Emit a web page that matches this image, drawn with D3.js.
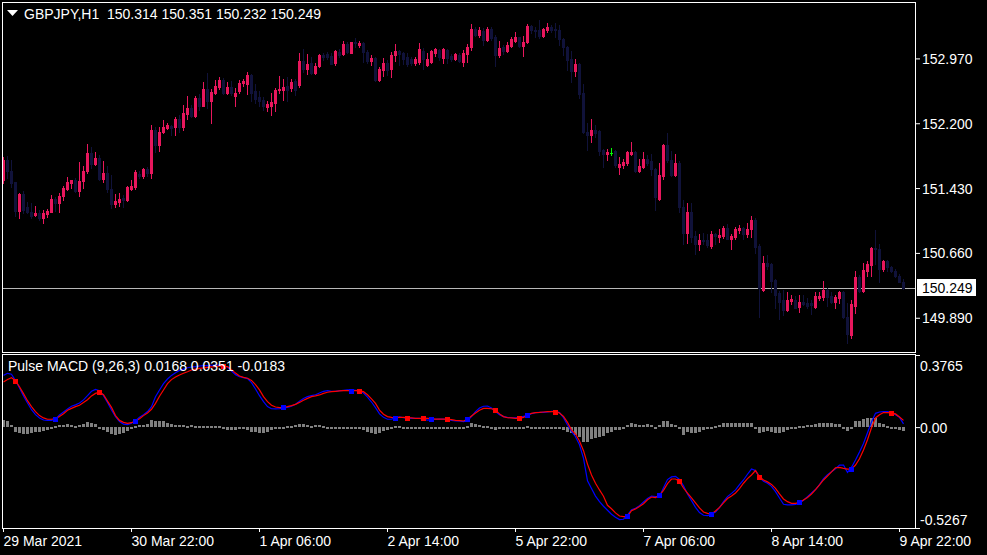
<!DOCTYPE html>
<html><head><meta charset="utf-8">
<script src="https://cdn.jsdelivr.net/npm/d3@7"></script>
<style>
html,body{margin:0;padding:0;background:#000;overflow:hidden}
svg{display:block}
text{font-family:"Liberation Sans",Arial,sans-serif;font-size:14px;fill:#fff}
</style></head><body>
<script>
// ---- data (GBPJPY H1, 226 bars, 29 Mar 14:00 .. 9 Apr 23:00) ----
const openP=[151.52,151.76,151.63,151.50,151.16,151.36,151.21,151.15,151.11,151.13,
151.08,151.12,151.15,151.30,151.25,151.34,151.42,151.49,151.52,151.39,
151.51,151.63,151.85,151.72,151.79,151.54,151.61,151.42,151.24,151.27,
151.31,151.29,151.42,151.44,151.60,151.57,151.66,151.61,152.12,151.94,
152.10,152.14,152.17,152.15,152.25,152.15,152.31,152.38,152.29,152.50,
152.41,152.61,152.46,152.56,152.63,152.71,152.56,152.63,152.52,152.58,
152.68,152.67,152.77,152.58,152.51,152.48,152.39,152.40,152.44,152.59,
152.60,152.64,152.62,152.70,152.65,152.94,152.84,152.91,152.80,152.88,
153.01,153.02,153.00,152.91,153.05,153.02,153.14,153.04,153.17,153.13,
153.15,153.05,152.94,152.98,152.71,152.83,152.92,152.85,153.01,153.06,
153.03,152.99,152.96,152.91,152.93,153.06,152.89,152.93,153.03,153.07,
152.98,153.07,153.00,152.96,153.01,152.93,153.02,153.10,153.32,153.25,
153.30,153.19,153.32,153.22,153.01,153.10,153.06,153.12,153.18,153.22,
153.12,153.16,153.36,153.31,153.31,153.24,153.31,153.34,153.32,153.31,
153.20,153.11,152.96,152.82,152.90,152.56,152.10,152.06,152.12,152.11,
151.88,151.84,151.85,151.87,151.68,151.70,151.73,151.84,151.86,151.63,
151.68,151.78,151.75,151.66,151.30,151.57,151.94,151.76,151.58,151.73,
151.20,150.90,151.15,150.86,150.77,150.81,150.81,150.74,150.89,150.85,
150.86,150.96,150.83,150.85,150.93,150.95,150.88,150.94,151.05,150.74,
150.22,150.54,150.53,150.34,150.18,150.10,149.98,150.09,150.10,150.02,
150.08,150.07,150.06,150.02,150.13,150.14,150.22,150.15,150.08,150.13,
150.20,149.90,149.69,150.03,150.37,150.21,150.45,150.52,150.72,150.71,
150.47,150.56,150.49,150.45,150.39,150.314];
const highP=[151.80,151.81,151.76,151.50,151.37,151.40,151.27,151.25,151.22,151.17,
151.17,151.18,151.35,151.32,151.37,151.46,151.56,151.53,151.55,151.74,
151.69,151.95,151.92,151.86,151.82,151.75,151.69,151.59,151.36,151.37,
151.35,151.45,151.52,151.65,151.63,151.67,151.68,152.18,152.15,152.15,
152.24,152.20,152.18,152.28,152.30,152.42,152.52,152.42,152.52,152.55,
152.69,152.80,152.61,152.71,152.75,152.74,152.69,152.70,152.62,152.71,
152.73,152.81,152.79,152.67,152.58,152.51,152.46,152.56,152.62,152.76,
152.73,152.75,152.73,152.73,153.03,153.08,153.02,152.99,152.91,153.02,
153.04,153.05,153.04,153.07,153.08,153.18,153.17,153.17,153.21,153.18,
153.17,153.07,153.01,152.99,152.87,152.97,152.95,153.05,153.14,153.07,
153.05,153.04,152.99,152.99,153.15,153.09,153.03,153.07,153.09,153.08,
153.09,153.08,153.02,153.03,153.04,153.07,153.14,153.38,153.34,153.34,
153.33,153.34,153.34,153.25,153.18,153.13,153.16,153.22,153.28,153.23,
153.24,153.38,153.37,153.34,153.43,153.33,153.39,153.37,153.39,153.37,
153.21,153.12,153.06,152.96,152.92,152.67,152.20,152.25,152.18,152.12,
151.90,151.89,151.91,151.88,151.80,151.78,151.87,151.98,151.87,151.78,
151.86,151.82,151.83,151.67,151.73,151.95,152.08,151.87,151.84,151.75,
151.29,151.25,151.25,150.92,150.88,150.90,150.88,150.92,150.90,150.94,
150.98,151.00,150.89,150.97,150.99,150.97,151.01,151.10,151.08,150.76,
150.62,150.64,150.54,150.35,150.21,150.22,150.19,150.16,150.15,150.16,
150.16,150.12,150.10,150.19,150.19,150.33,150.24,150.19,150.16,150.21,
150.21,150.07,150.10,150.45,150.40,150.54,150.56,150.73,150.93,150.77,
150.58,150.58,150.51,150.47,150.41,150.351];
const lowP=[151.49,151.55,151.44,151.10,151.08,151.13,151.13,151.08,151.10,151.05,
151.01,151.09,151.14,151.16,151.15,151.29,151.41,151.43,151.38,151.34,
151.43,151.61,151.67,151.70,151.53,151.50,151.38,151.19,151.20,151.22,
151.21,151.28,151.41,151.42,151.55,151.55,151.57,151.55,151.86,151.87,
152.08,152.13,152.06,152.06,152.10,152.12,152.25,152.27,152.27,152.36,
152.40,152.38,152.20,152.55,152.61,152.55,152.55,152.54,152.41,152.56,
152.64,152.55,152.46,152.44,152.40,152.36,152.34,152.30,152.34,152.56,
152.48,152.46,152.58,152.54,152.63,152.81,152.79,152.79,152.78,152.87,
152.95,152.96,152.90,152.89,152.99,153.01,153.03,153.03,153.11,153.11,
152.93,152.91,152.89,152.70,152.70,152.76,152.77,152.75,152.94,152.89,
152.90,152.88,152.89,152.89,152.90,152.85,152.88,152.91,153.00,152.95,
152.91,152.91,152.94,152.95,152.93,152.88,152.93,153.07,153.24,153.22,
153.13,153.18,153.19,152.88,152.99,153.02,153.05,153.11,153.16,153.11,
153.00,153.15,153.27,153.22,153.21,153.23,153.28,153.28,153.22,153.13,
153.01,152.83,152.69,152.76,152.50,152.08,151.88,151.98,152.04,151.82,
151.68,151.76,151.82,151.68,151.60,151.67,151.71,151.82,151.62,151.62,
151.67,151.70,151.59,151.17,151.29,151.54,151.74,151.57,151.57,151.14,
150.77,150.78,150.79,150.65,150.70,150.77,150.73,150.72,150.77,150.79,
150.84,150.82,150.71,150.82,150.90,150.82,150.85,150.85,150.66,149.90,
150.21,150.47,150.20,150.01,149.88,149.92,149.97,150.05,150.00,149.96,
150.04,150.01,149.93,150.01,150.10,150.10,150.03,150.07,150.01,150.07,
149.89,149.59,149.65,149.95,150.20,150.20,150.39,150.38,150.53,150.31,
150.44,150.45,150.43,150.37,150.31,150.232];
const closeP=[151.76,151.63,151.49,151.16,151.36,151.17,151.15,151.10,151.13,151.08,
151.13,151.16,151.30,151.25,151.34,151.43,151.50,151.52,151.39,151.51,
151.63,151.85,151.72,151.79,151.54,151.61,151.42,151.24,151.28,151.30,
151.29,151.44,151.46,151.62,151.57,151.66,151.61,152.12,151.94,152.10,
152.15,152.18,152.14,152.25,152.15,152.32,152.38,152.29,152.50,152.41,
152.61,152.46,152.57,152.64,152.71,152.56,152.63,152.56,152.56,152.68,
152.70,152.77,152.56,152.49,152.47,152.40,152.43,152.45,152.60,152.61,
152.63,152.60,152.69,152.60,152.94,152.84,152.90,152.80,152.88,153.01,
152.99,152.99,152.90,153.06,153.01,153.14,153.05,153.16,153.15,153.15,
153.05,152.94,152.98,152.71,152.85,152.92,152.83,153.01,153.06,153.02,
152.96,152.90,152.91,152.96,153.08,152.96,152.96,153.06,153.08,152.99,
153.08,152.97,152.96,153.02,152.94,153.04,153.11,153.32,153.25,153.31,
153.19,153.32,153.21,153.01,153.09,153.06,153.13,153.20,153.22,153.12,
153.16,153.36,153.31,153.30,153.24,153.32,153.34,153.31,153.31,153.20,
153.10,152.95,152.82,152.90,152.55,152.10,152.06,152.12,152.09,151.87,
151.83,151.86,151.85,151.70,151.72,151.74,151.86,151.86,151.63,151.69,
151.78,151.73,151.66,151.32,151.59,151.94,151.76,151.58,151.73,151.20,
150.90,151.15,150.85,150.77,150.81,150.80,150.75,150.89,150.86,150.87,
150.96,150.83,150.86,150.94,150.96,150.89,150.94,151.05,150.73,150.24,
150.54,150.50,150.33,150.16,150.08,149.98,150.10,150.11,150.01,150.08,
150.05,150.03,150.04,150.15,150.15,150.22,150.14,150.08,150.14,150.20,
149.90,149.70,150.05,150.37,150.21,150.46,150.53,150.72,150.71,150.47,
150.56,150.49,150.44,150.38,150.32,150.249];

const macdLine=[0.270,0.281,0.276,0.243,0.204,0.163,0.126,0.091,0.065,0.048,
0.037,0.035,0.035,0.042,0.063,0.079,0.095,0.109,0.116,0.126,
0.142,0.164,0.187,0.197,0.190,0.164,0.129,0.089,0.055,0.029,
0.016,0.013,0.020,0.034,0.051,0.065,0.081,0.107,0.159,0.194,
0.227,0.251,0.270,0.284,0.296,0.303,0.310,0.314,0.316,0.319,
0.321,0.321,0.323,0.324,0.324,0.321,0.314,0.293,0.274,0.263,
0.258,0.253,0.232,0.199,0.164,0.133,0.107,0.096,0.095,0.096,
0.100,0.103,0.109,0.119,0.135,0.149,0.159,0.164,0.169,0.178,
0.187,0.190,0.187,0.187,0.190,0.192,0.194,0.194,0.192,0.189,
0.178,0.157,0.131,0.102,0.069,0.051,0.041,0.042,0.048,0.053,
0.049,0.046,0.046,0.046,0.046,0.042,0.037,0.039,0.041,0.042,
0.042,0.041,0.035,0.032,0.032,0.029,0.034,0.055,0.081,0.100,
0.109,0.110,0.100,0.081,0.065,0.055,0.051,0.049,0.049,0.051,
0.056,0.060,0.070,0.076,0.077,0.077,0.079,0.082,0.082,0.076,
0.049,0.011,-0.022,-0.050,-0.092,-0.163,-0.280,-0.321,-0.360,-0.389,
-0.413,-0.434,-0.455,-0.471,-0.483,-0.481,-0.459,-0.431,-0.424,-0.410,
-0.391,-0.372,-0.360,-0.363,-0.363,-0.316,-0.274,-0.260,-0.257,-0.273,
-0.306,-0.349,-0.384,-0.419,-0.446,-0.460,-0.462,-0.455,-0.443,-0.420,
-0.389,-0.363,-0.346,-0.328,-0.300,-0.276,-0.246,-0.219,-0.227,-0.262,
-0.283,-0.293,-0.309,-0.337,-0.370,-0.403,-0.406,-0.406,-0.403,-0.396,
-0.382,-0.363,-0.344,-0.326,-0.300,-0.269,-0.248,-0.233,-0.217,-0.198,
-0.198,-0.236,-0.210,-0.172,-0.130,-0.085,-0.029,0.027,0.072,0.079,
0.081,0.081,0.077,0.065,0.051,0.017];
const signalLine=[0.236,0.249,0.258,0.243,0.211,0.175,0.138,0.107,0.081,0.060,
0.048,0.041,0.041,0.044,0.055,0.070,0.088,0.098,0.107,0.114,
0.128,0.143,0.163,0.176,0.183,0.169,0.136,0.103,0.060,0.035,
0.025,0.020,0.023,0.032,0.044,0.060,0.074,0.093,0.124,0.161,
0.194,0.227,0.248,0.262,0.272,0.281,0.289,0.298,0.303,0.307,
0.309,0.312,0.314,0.316,0.319,0.317,0.316,0.300,0.282,0.267,
0.260,0.255,0.244,0.222,0.194,0.159,0.133,0.114,0.105,0.102,
0.103,0.107,0.112,0.119,0.129,0.140,0.150,0.159,0.163,0.168,
0.176,0.182,0.185,0.187,0.189,0.190,0.190,0.190,0.190,0.189,
0.185,0.169,0.147,0.124,0.089,0.067,0.055,0.051,0.049,0.051,
0.051,0.049,0.048,0.046,0.046,0.046,0.046,0.044,0.042,0.042,
0.042,0.041,0.039,0.035,0.034,0.032,0.041,0.058,0.074,0.088,
0.098,0.098,0.096,0.089,0.069,0.055,0.049,0.048,0.046,0.046,
0.051,0.062,0.072,0.076,0.077,0.079,0.081,0.081,0.081,0.074,
0.056,0.025,-0.015,-0.036,-0.072,-0.123,-0.193,-0.250,-0.293,-0.328,
-0.361,-0.408,-0.426,-0.448,-0.464,-0.467,-0.466,-0.436,-0.427,-0.415,
-0.400,-0.379,-0.365,-0.368,-0.356,-0.330,-0.295,-0.271,-0.271,-0.283,
-0.318,-0.344,-0.370,-0.396,-0.422,-0.443,-0.450,-0.453,-0.438,-0.419,
-0.396,-0.373,-0.360,-0.344,-0.321,-0.293,-0.269,-0.250,-0.227,-0.259,
-0.276,-0.286,-0.299,-0.320,-0.349,-0.375,-0.389,-0.398,-0.398,-0.393,
-0.380,-0.367,-0.349,-0.326,-0.302,-0.276,-0.255,-0.234,-0.212,-0.210,
-0.215,-0.219,-0.219,-0.198,-0.165,-0.119,-0.066,-0.003,0.048,0.065,
0.076,0.076,0.074,0.069,0.053,0.035];
const histBars=[0.037,0.033,0.010,-0.026,-0.030,-0.037,-0.038,-0.033,-0.028,-0.024,
-0.021,-0.016,-0.003,0.003,0.009,0.012,0.016,0.012,0.005,0.009,
0.016,0.028,0.023,0.016,-0.007,-0.016,-0.024,-0.037,-0.040,-0.037,
-0.030,-0.019,-0.009,0.005,0.010,0.012,0.016,0.037,0.033,0.033,
0.031,0.023,0.016,0.010,0.009,0.009,0.005,0.012,0.002,0.005,
0.002,0.002,0.003,0.002,0.000,-0.009,-0.016,-0.016,-0.016,-0.012,
-0.009,-0.016,-0.024,-0.028,-0.030,-0.030,-0.024,-0.016,-0.010,-0.005,
-0.002,0.002,0.005,0.009,0.016,0.016,0.010,0.005,0.009,0.009,
0.005,-0.002,-0.007,-0.002,-0.002,-0.002,-0.002,-0.003,-0.003,-0.003,
-0.016,-0.024,-0.030,-0.037,-0.030,-0.021,-0.016,-0.007,0.005,0.002,
-0.003,-0.005,-0.003,-0.005,-0.005,-0.002,-0.005,-0.007,-0.005,-0.002,
-0.005,-0.007,-0.009,-0.009,-0.005,-0.009,0.005,0.019,0.016,0.012,
0.005,0.000,-0.009,-0.016,-0.012,-0.010,-0.009,-0.012,-0.009,-0.010,
-0.005,0.005,-0.003,-0.003,-0.003,-0.003,-0.002,-0.003,-0.003,-0.009,
-0.016,-0.024,-0.030,-0.042,-0.054,-0.077,-0.077,-0.064,-0.059,-0.054,
-0.047,-0.033,-0.024,-0.016,-0.016,-0.009,0.010,0.019,0.014,0.012,
0.012,0.016,0.009,-0.009,0.009,0.033,0.030,0.016,0.009,-0.009,
-0.042,-0.024,-0.030,-0.033,-0.024,-0.016,-0.009,-0.005,0.005,0.012,
0.019,0.023,0.023,0.023,0.023,0.023,0.023,0.019,-0.002,-0.033,
-0.024,-0.019,-0.024,-0.030,-0.030,-0.024,-0.016,-0.009,-0.003,0.002,
0.005,0.010,0.010,0.016,0.019,0.023,0.019,0.019,0.016,0.016,
-0.007,-0.019,-0.002,0.030,0.033,0.040,0.045,0.045,0.050,0.023,
0.016,0.005,-0.005,-0.012,-0.016,-0.018];
const upMarks=[13,33,70,87,98,107,116,131,156,164,177,199,212];
const downMarks=[3,24,55,89,101,105,111,123,129,138,169,189,222];

const timeIdx=[0,32,64,96,128,160,192,224];
const timeLabels=['29 Mar 2021','30 Mar 22:00','1 Apr 06:00','2 Apr 14:00','5 Apr 22:00','7 Apr 06:00','8 Apr 14:00','9 Apr 22:00'];
const priceTicks=[152.970,152.200,151.430,150.660,149.890];
const macdTicks=[0.3765,0,-0.5267];
const macdTickLabels=['0.3765','0.00','-0.5267'];
const bidPrice=150.249;
const titleText='GBPJPY,H1  150.314 150.351 150.232 150.249';
const indText='Pulse MACD (9,26,3) 0.0168 0.0351 -0.0183';

// ---- drawing ----
const UP='#e8175d', DOWN='#10123a', DOJI='#00ff00';
const svg=d3.select('body').append('svg').attr('width',987).attr('height',555);
svg.append('rect').attr('width',987).attr('height',555).attr('fill','#000');

const n=closeP.length;
const x=d3.scaleLinear().domain([0,n-1]).range([3,903]);
const yP=d3.scaleLinear().domain([149.507,153.628]).range([350,3]);
const yM=d3.scaleLinear().domain([-0.5267,0.3765]).range([528,355]);

const defs=svg.append('defs');
defs.append('clipPath').attr('id','cm').append('rect').attr('x',3).attr('y',3).attr('width',912).attr('height',349);
defs.append('clipPath').attr('id','ci').append('rect').attr('x',3).attr('y',355).attr('width',912).attr('height',173);

const main=svg.append('g').attr('clip-path','url(#cm)').attr('shape-rendering','crispEdges');
main.append('line').attr('x1',3).attr('x2',915)
  .attr('y1',Math.round(yP(bidPrice))+0.5).attr('y2',Math.round(yP(bidPrice))+0.5)
  .attr('stroke','#b8b8b8').attr('stroke-width',1);

const idx=d3.range(n);
const col=i=>closeP[i]>openP[i]?UP:(closeP[i]<openP[i]?DOWN:DOJI);
main.selectAll('rect.wick').data(idx).join('rect').attr('class','wick')
  .attr('x',i=>Math.round(x(i))).attr('width',1)
  .attr('y',i=>Math.round(yP(highP[i])))
  .attr('height',i=>Math.max(1,Math.round(yP(lowP[i]))-Math.round(yP(highP[i]))+1))
  .attr('fill',col);
main.selectAll('rect.body').data(idx).join('rect').attr('class','body')
  .attr('x',i=>Math.round(x(i))-1).attr('width',3)
  .attr('y',i=>Math.round(yP(Math.max(openP[i],closeP[i]))))
  .attr('height',i=>Math.max(1,Math.round(yP(Math.min(openP[i],closeP[i])))-Math.round(yP(Math.max(openP[i],closeP[i])))+1))
  .attr('fill',col);

// indicator
const ind=svg.append('g').attr('clip-path','url(#ci)');
const y0=Math.round(yM(0));
ind.selectAll('rect.h').data(idx).join('rect').attr('class','h')
  .attr('shape-rendering','crispEdges')
  .attr('x',i=>Math.round(x(i))-1).attr('width',3)
  .attr('y',i=>{const yv=Math.round(yM(histBars[i]));return histBars[i]>=0?Math.min(yv,y0-1):y0;})
  .attr('height',i=>{const yv=Math.round(yM(histBars[i]));return Math.max(2,Math.abs(yv-y0));})
  .attr('fill','#808080');
const ln=d3.line().x((d,i)=>x(i)+0.5).y(d=>yM(d));
ind.append('path').attr('d',ln(macdLine)).attr('fill','none').attr('stroke','#0000ff').attr('stroke-width',1.2);
ind.append('path').attr('d',ln(signalLine)).attr('fill','none').attr('stroke','#ff0000').attr('stroke-width',1.2);
ind.selectAll('rect.up').data(upMarks).join('rect').attr('class','up')
  .attr('x',i=>Math.round(x(i))-2).attr('y',i=>Math.round(yM(signalLine[i]))-2)
  .attr('width',5).attr('height',5).attr('fill','#0000ff').attr('shape-rendering','crispEdges');
ind.selectAll('rect.dn').data(downMarks).join('rect').attr('class','dn')
  .attr('x',i=>Math.round(x(i))-2).attr('y',i=>Math.round(yM(signalLine[i]))-2)
  .attr('width',5).attr('height',5).attr('fill','#ff0000').attr('shape-rendering','crispEdges');

// frames
svg.append('rect').attr('x',2.5).attr('y',2.5).attr('width',913).attr('height',350)
  .attr('fill','none').attr('stroke','#fff').attr('shape-rendering','crispEdges');
svg.append('rect').attr('x',2.5).attr('y',354.5).attr('width',913).attr('height',174)
  .attr('fill','none').attr('stroke','#fff').attr('shape-rendering','crispEdges');

// axes
const gx=svg.append('g').attr('transform','translate(0,528)')
  .call(d3.axisBottom(x).tickValues(timeIdx).tickFormat((d,i)=>timeLabels[i]).tickSize(4).tickSizeOuter(0));
gx.select('.domain').remove();
gx.selectAll('.tick line').attr('stroke','#fff');
gx.selectAll('.tick text').attr('text-anchor','start').attr('x',0).attr('y',18).attr('dy',null);

const gy=svg.append('g').attr('transform','translate(915,0)')
  .call(d3.axisRight(yP).tickValues(priceTicks).tickFormat(d3.format('.3f')).tickSize(5).tickSizeOuter(0));
gy.select('.domain').remove();
gy.selectAll('.tick line').attr('stroke','#fff');
gy.selectAll('.tick text').attr('x',7).attr('dy',5);

const gm=svg.append('g').attr('transform','translate(915,0)')
  .call(d3.axisRight(yM).tickValues(macdTicks).tickFormat((d,i)=>macdTickLabels[i]).tickSize(5).tickSizeOuter(0));
gm.select('.domain').remove();
gm.selectAll('.tick line').attr('stroke','#fff');
gm.selectAll('.tick text').attr('x',5).attr('dy',(d,i)=>[15,5,-3.5][i]);

// bid label
const by=Math.round(yP(bidPrice));
svg.append('rect').attr('x',917).attr('y',by-9).attr('width',59).attr('height',17).attr('fill','#fff');
svg.append('text').attr('x',922).attr('y',by+5).style('fill','#000').text(d3.format('.3f')(bidPrice));

// titles
svg.append('path').attr('d','M7,10L18,10L12.5,16Z').attr('fill','#fff');
svg.append('text').attr('x',24).attr('y',19).style('white-space','pre').text(titleText);
svg.append('text').attr('x',8).attr('y',371).style('white-space','pre').text(indText);
</script>
</body></html>
